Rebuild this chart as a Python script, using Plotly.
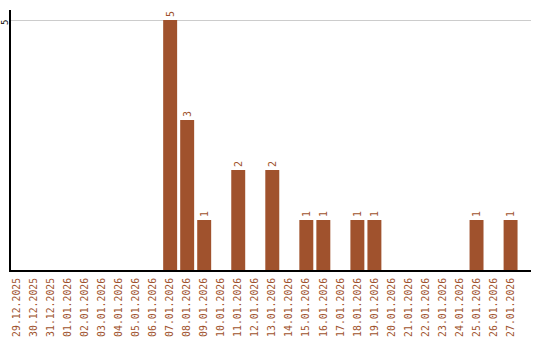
import plotly.graph_objects as go

dates = ["29.12.2025", "30.12.2025", "31.12.2025", "01.01.2026", "02.01.2026", "03.01.2026",
         "04.01.2026", "05.01.2026", "06.01.2026", "07.01.2026", "08.01.2026", "09.01.2026",
         "10.01.2026", "11.01.2026", "12.01.2026", "13.01.2026", "14.01.2026", "15.01.2026",
         "16.01.2026", "17.01.2026", "18.01.2026", "19.01.2026", "20.01.2026", "21.01.2026",
         "22.01.2026", "23.01.2026", "24.01.2026", "25.01.2026", "26.01.2026", "27.01.2026"]
counts = [0, 0, 0, 0, 0, 0, 0, 0, 0, 5, 3, 1, 0, 2, 0, 2, 0, 1, 1, 0, 1, 1, 0, 0, 0, 0, 0, 1, 0, 1]
y_ticks = [5]

labels = [str(c) if c > 0 else "" for c in counts]
color = "#A0522D"

fig = go.Figure(go.Bar(
    x=list(range(len(dates))), y=counts,
    marker=dict(color=color, line=dict(width=0)),
    width=0.82,
    text=labels, textposition="outside", textangle=-90,
    textfont=dict(family="DejaVu Sans Mono", size=10, color=color),
    constraintext="none", cliponaxis=False,
))

fig.update_layout(
    width=540, height=340,
    margin=dict(l=11, r=9, t=10, b=70),
    paper_bgcolor="white", plot_bgcolor="white",
    showlegend=False,
    bargap=0.18,
    font=dict(family="DejaVu Sans Mono", size=10),
)
fig.update_xaxes(
    range=[-0.35, 30.2], automargin=False,
    tickmode="array", tickvals=list(range(len(dates))), ticktext=dates,
    tickangle=-90, tickfont=dict(family="DejaVu Sans Mono", size=9.8, color=color),
    showgrid=False, showline=True, linecolor="black", linewidth=2,
    ticks="", zeroline=False, ticklabelstandoff=2,
)
fig.update_yaxes(
    range=[0, 5.2], automargin=False,
    tickmode="array", tickvals=y_ticks, showticklabels=False,
    showgrid=True, gridcolor="#cccccc", gridwidth=1,
    showline=True, linecolor="black", linewidth=2,
    ticks="", zeroline=False,
)
for v in y_ticks:
    fig.add_annotation(
        x=0, xref="paper", y=v, yref="y", text=str(v), showarrow=False,
        textangle=-90, xanchor="center", xshift=-6, yshift=-3, borderpad=0,
        font=dict(family="DejaVu Sans Mono", size=9, color="black"),
    )

fig.write_html("out.html")
